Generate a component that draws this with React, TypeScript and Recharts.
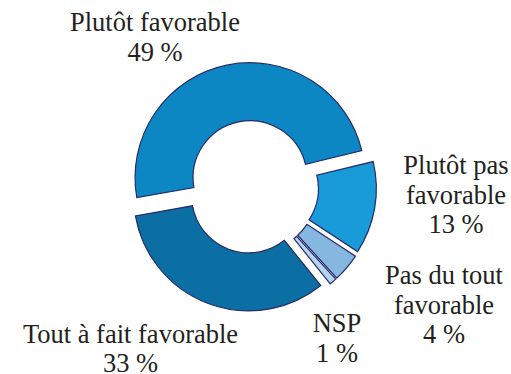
import { PieChart, Pie, Cell } from 'recharts';

// répartition des réponses (en %)
const categories = [
  'Plutôt favorable',
  'Plutôt pas\nfavorable',
  'Pas du tout\nfavorable',
  'NSP',
  'Tout à fait favorable',
];
const shares = [49, 13, 4, 1, 33];
const colors = ['#0D87C3', '#1A9BD9', '#85B7E1', '#B7D4EF', '#0C6FA3'];

const data = categories.map((name, i) => ({ name, value: shares[i] }));

const W = 511;
const H = 374;
const START = 190;
const CX = 252;
const CY = 187;
const EXPLODE = 9.5;
const FONT_SIZE = 26.5;
const LINE_H = 29.5;
const BASELINE = 23.7; // distance haut de ligne -> ligne de base

// position du texte de chaque étiquette (centre, ligne de base)
const labelPos = [
  [155, 32],
  [456, 175],
  [444, 285],
  [337, 333],
  [130.5, 343.5],
];

const total = shares.reduce((a, b) => a + b, 0);
const offsets = shares.map((v, i) => {
  const before = shares.slice(0, i).reduce((a, b) => a + b, 0);
  const mid = START - ((before + v / 2) / total) * 360;
  const rad = (mid * Math.PI) / 180;
  return { dx: EXPLODE * Math.cos(rad), dy: -EXPLODE * Math.sin(rad) };
});

const Labels = () => (
  <>
    {categories.map((cat, i) => {
      const [x, y] = labelPos[i];
      const lines = [...cat.split('\n'), `${shares[i]} %`];
      return (
        <div
          key={i}
          style={{
            position: 'absolute',
            left: x - 150,
            top: y - BASELINE,
            width: 300,
            textAlign: 'center',
            whiteSpace: 'nowrap',
            fontFamily: '"Liberation Serif"',
            fontSize: FONT_SIZE,
            lineHeight: `${LINE_H}px`,
            color: '#231F20',
            pointerEvents: 'none',
          }}
        >
          {lines.map((l, j) => (
            <div key={j}>{l}</div>
          ))}
        </div>
      );
    })}
  </>
);

const App = () => {
  return (
    <div
      style={{
        position: 'absolute',
        left: 0,
        top: 0,
        width: W,
        height: H,
        overflow: 'hidden',
        background: '#fff',
      }}
    >
      <PieChart width={W} height={H} margin={{ top: 0, right: 0, bottom: 0, left: 0 }}>
        {data.map((_, k) => (
          <Pie
            key={k}
            data={data}
            dataKey="value"
            nameKey="name"
            cx={CX + offsets[k].dx}
            cy={CY + offsets[k].dy}
            innerRadius={57}
            outerRadius={115}
            startAngle={START}
            endAngle={START - 360}
            isAnimationActive={false}
            label={false}
            labelLine={false}
          >
            {data.map((d, i) => (
              <Cell
                key={d.name}
                fill={i === k ? colors[i] : 'none'}
                stroke={i === k ? '#262C6A' : 'none'}
                strokeWidth={1.2}
              />
            ))}
          </Pie>
        ))}
      </PieChart>
      <Labels />
    </div>
  );
};

export default App;
